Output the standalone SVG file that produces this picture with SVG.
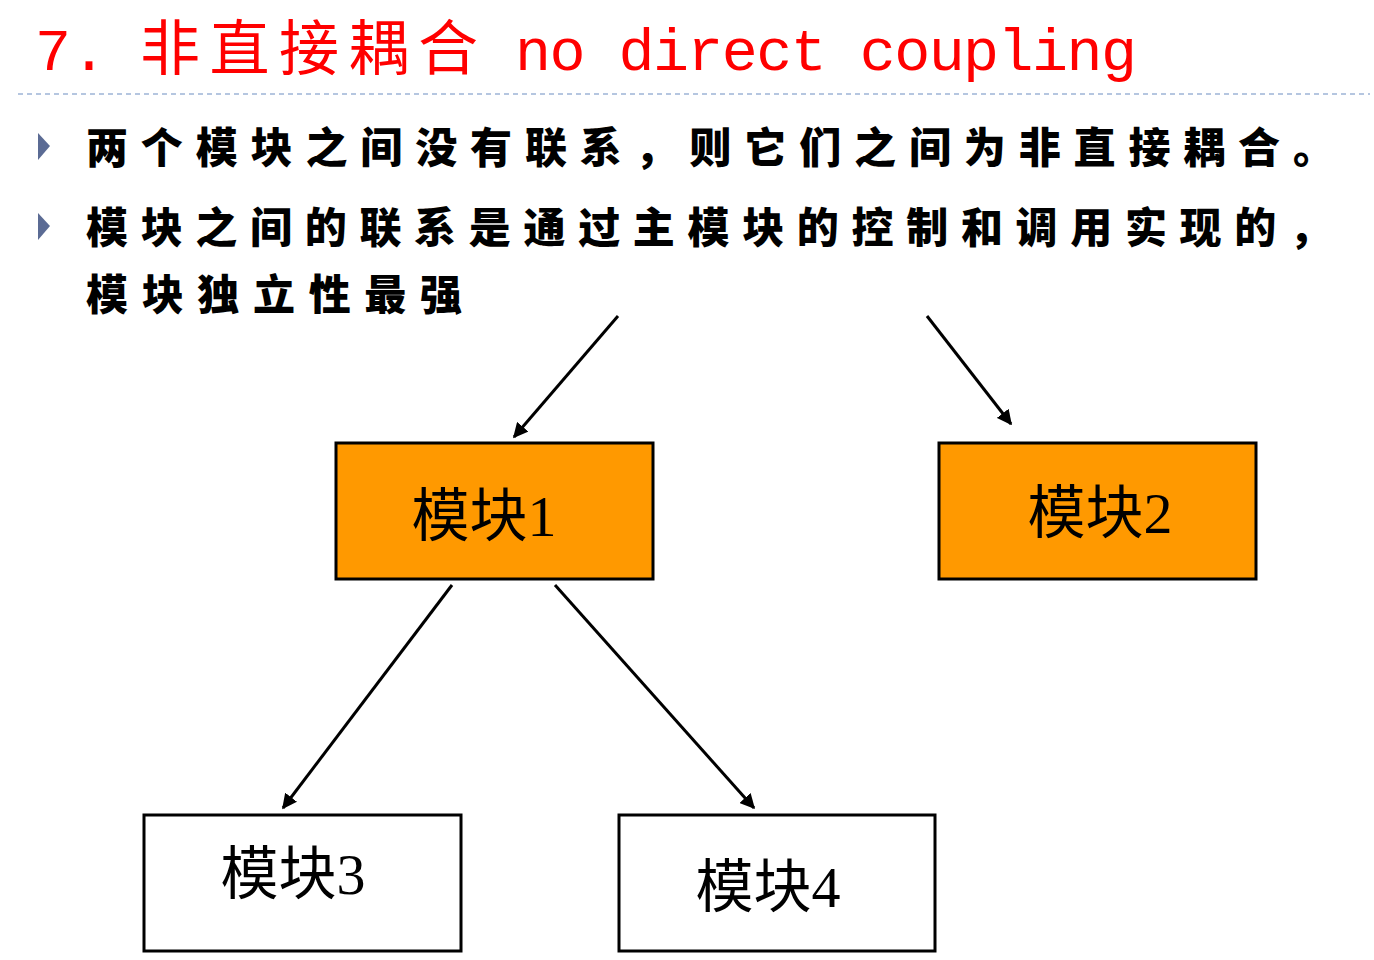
<svg xmlns="http://www.w3.org/2000/svg" width="1374" height="960" viewBox="0 0 1374 960">
<defs>
<style>
.t{fill:#ff0000;font-family:"Liberation Mono","Noto Sans CJK SC",monospace;font-size:60px}
.b{font-family:"Noto Sans CJK SC",sans-serif;font-weight:900;font-size:42px;fill:#000}
.box{stroke:#000;stroke-width:3}
.lbl{font-family:"Liberation Serif","Noto Sans CJK SC",serif;font-size:58px;fill:#000;text-anchor:middle}
.c line{stroke:#000;stroke-width:3;marker-end:url(#a)}
</style>
<marker id="a" viewBox="0 0 10 10" refX="9" refY="5" markerWidth="5" markerHeight="5" orient="auto"><path d="M0,0L10,5L0,10z" fill="#000"/></marker>
</defs>
<rect width="1374" height="960" fill="#fff"/>
<text class="t" x="35" y="70">7.</text>
<text class="t" x="140" y="70" textLength="338" font-family="Noto Sans CJK SC,sans-serif">非直接耦合</text>
<text class="t" x="515" y="70" textLength="622">no direct coupling</text>
<line x1="18" y1="94" x2="1370" y2="94" stroke="#9db4d6" stroke-width="1.5" stroke-dasharray="5,4"/>
<path d="M38,133L50,146L38,160z" fill="#5b6b94"/>
<path d="M38,213L50,226L38,240z" fill="#5b6b94"/>
<text class="b" x="86" y="163" textLength="1249">两个模块之间没有联系，则它们之间为非直接耦合。</text>
<text class="b" x="86" y="243" textLength="1245">模块之间的联系是通过主模块的控制和调用实现的，</text>
<text class="b" x="86" y="310" textLength="376">模块独立性最强</text>
<g class="c">
<line x1="618" y1="316" x2="514" y2="437"/>
<line x1="927" y1="316" x2="1011" y2="424"/>
<line x1="452" y1="585" x2="283" y2="808"/>
<line x1="555" y1="585" x2="754" y2="808"/>
</g>
<g id="m1"><rect class="box" x="336" y="443" width="317" height="136" fill="#ff9900"/><text class="lbl" x="484" y="536">模块1</text></g>
<g id="m2"><rect class="box" x="939" y="443" width="317" height="136" fill="#ff9900"/><text class="lbl" x="1100" y="533">模块2</text></g>
<g id="m3"><rect class="box" x="144" y="815" width="317" height="136" fill="#fff"/><text class="lbl" x="293" y="894">模块3</text></g>
<g id="m4"><rect class="box" x="619" y="815" width="316" height="136" fill="#fff"/><text class="lbl" x="768" y="907">模块4</text></g>
</svg>
